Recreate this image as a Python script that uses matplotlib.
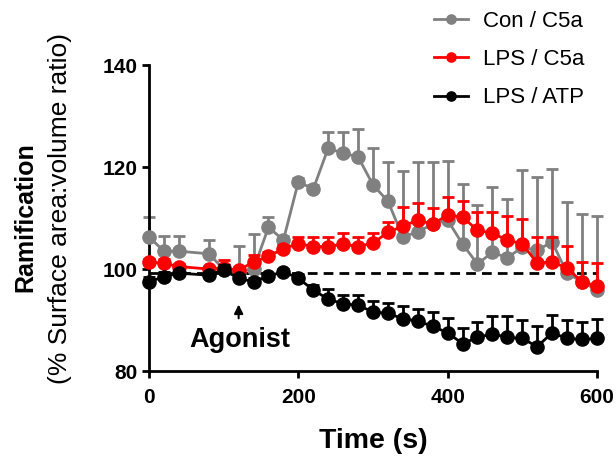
import matplotlib
matplotlib.use("Agg")
import matplotlib.pyplot as plt
import numpy as np

plt.rcParams['font.family'] = ['Liberation Sans', 'DejaVu Sans']

# sampling times (s); no frame at 60 s
time_s = [0, 20, 40, 80, 100, 120, 140, 160, 180, 200, 220, 240, 260, 280, 300,
          320, 340, 360, 380, 400, 420, 440, 460, 480, 500, 520, 540, 560, 580, 600]

con_c5a = [106.3, 103.5, 103.5, 103.0, 100.0, 99.5, 100.0, 108.2, 105.7, 117.1,
           115.7, 123.7, 122.7, 122.0, 116.5, 113.3, 106.3, 107.3, 108.8, 109.6,
           104.9, 101.0, 103.3, 102.2, 104.3, 103.7, 105.3, 99.2, 97.5, 95.9]
con_c5a_sem = [3.9, 3.0, 3.0, 2.7, 0.5, 5.0, 6.9, 2.0, 0.8, 0.8,
               0.8, 3.2, 4.2, 5.5, 7.2, 7.7, 12.9, 13.6, 12.1, 11.6,
               11.8, 11.5, 12.7, 11.5, 15.1, 14.3, 14.4, 13.9, 13.2, 14.6]

lps_c5a = [101.4, 101.1, 100.5, 100.0, 100.2, 99.8, 101.4, 102.5, 104.0, 105.0,
           104.4, 104.4, 104.9, 104.4, 105.1, 107.2, 108.4, 109.6, 108.8, 110.6,
           110.2, 107.6, 107.0, 105.7, 104.9, 101.2, 101.4, 100.2, 97.5, 96.7]
lps_c5a_sem = [0.5, 0.8, 0.5, 0.5, 1.6, 0.7, 1.3, 0.8, 0.8, 1.2,
               1.9, 1.9, 2.2, 1.9, 1.9, 2.0, 3.8, 3.3, 3.2, 3.5,
               3.1, 3.6, 4.2, 4.7, 4.9, 5.1, 4.9, 4.3, 3.9, 4.5]

lps_atp = [97.5, 98.5, 99.2, 98.8, 99.8, 98.2, 97.5, 98.6, 99.5, 98.2,
           95.9, 94.1, 93.2, 92.9, 91.6, 91.3, 90.3, 89.8, 88.8, 87.5,
           85.4, 86.6, 87.3, 86.6, 86.4, 84.8, 87.5, 86.4, 86.2, 86.4]
lps_atp_sem = [1.0, 1.0, 0.5, 0.5, 1.0, 0.7, 0.8, 0.5, 0.5, 0.8,
               1.0, 1.9, 1.8, 2.0, 2.2, 2.0, 2.4, 2.3, 2.7, 3.0,
               3.0, 3.1, 3.5, 4.2, 3.6, 4.0, 3.5, 3.7, 3.5, 3.9]

baseline = 99.2
agonist_time = 120

fig = plt.figure(figsize=(6.16, 4.61), dpi=100)
ax = fig.add_axes([0.242, 0.195, 0.727, 0.664])

series = [
    ("Con / C5a", con_c5a, con_c5a_sem, "#808080"),
    ("LPS / C5a", lps_c5a, lps_c5a_sem, "#ff0000"),
    ("LPS / ATP", lps_atp, lps_atp_sem, "#000000"),
]

handles = []
for i, (label, y, sem, col) in enumerate(series):
    y = np.array(y)
    err = [np.zeros_like(y), np.array(sem)]
    ax.errorbar(time_s, y, yerr=err, fmt='none', ecolor=col, elinewidth=2,
                capsize=4, capthick=2, zorder=2 + 2 * i, clip_on=False)
    h, = ax.plot(time_s, y, '-o', color=col, lw=2, ms=9.5, zorder=3 + 2 * i,
                 clip_on=False, label=label)
    handles.append(h)
    if i == 0:
        ax.axhline(baseline, color='black', ls=(0, (3.5, 2.2)), lw=2, zorder=2.5)

# agonist marker
ax.annotate('', xy=(agonist_time, 93.6), xytext=(agonist_time, 89.8),
            arrowprops=dict(arrowstyle='-|>', color='black', lw=1.5,
                            mutation_scale=13))
ax.text(agonist_time + 2, 86.1, 'Agonist', ha='center', va='center',
        fontsize=19.5, fontweight='bold')

ax.set_xlim(0, 600)
ax.set_ylim(80, 140)
ax.set_xticks([0, 200, 400, 600])
ax.set_yticks([80, 100, 120, 140])
for s in ['top', 'right']:
    ax.spines[s].set_visible(False)
for s in ['left', 'bottom']:
    ax.spines[s].set_linewidth(2)
ax.tick_params(direction='out', length=5, width=2, labelsize=15)
ax.tick_params(axis='x', pad=7)
ax.tick_params(axis='y', pad=3)
for lab in ax.get_xticklabels() + ax.get_yticklabels():
    lab.set_fontweight('bold')

ax.set_xlabel('Time (s)', fontsize=20.5, fontweight='bold', labelpad=15)
fig.text(0.041, 0.528, 'Ramification', rotation=90, ha='center', va='center',
         fontsize=18, fontweight='bold')
fig.text(0.097, 0.547, '(% Surface area:volume ratio)', rotation=90,
         ha='center', va='center', fontsize=19)

fig.legend(handles=handles, loc='upper left', bbox_to_anchor=(0.672, 1.02),
           frameon=False, fontsize=16, handlelength=1.55, labelspacing=0.78,
           handletextpad=0.65, markerscale=0.7)

fig.savefig('out.png', dpi=100)
